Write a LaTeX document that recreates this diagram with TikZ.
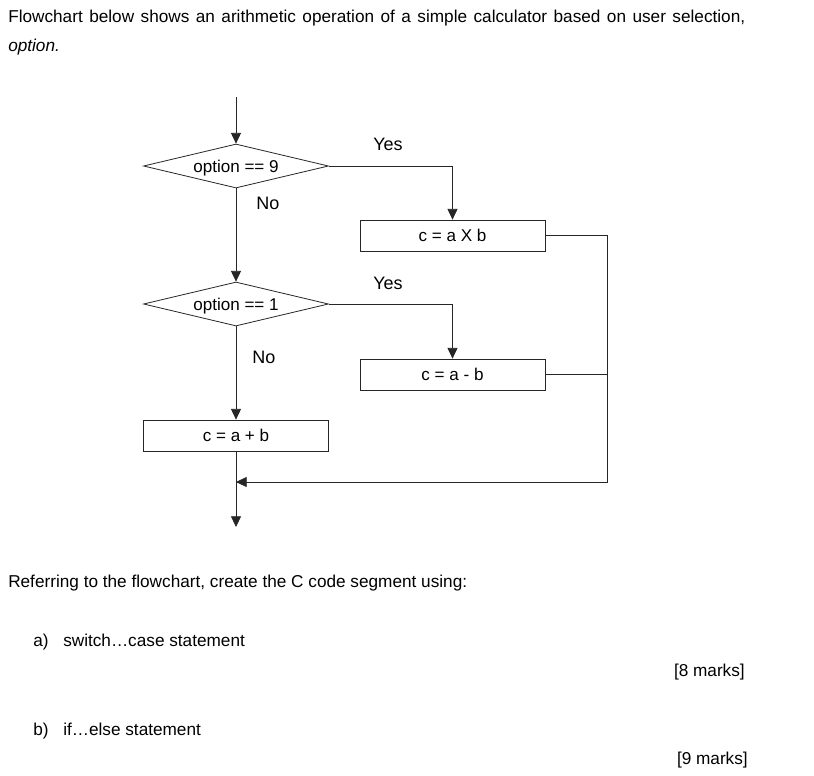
\documentclass[tikz,border=0pt]{standalone}
\usepackage{fontspec}
\setmainfont{Liberation Sans}
\usetikzlibrary{shapes.geometric,arrows.meta}

\begin{document}
\begin{tikzpicture}[x=0.75pt,y=0.75pt,yscale=-1,xscale=1,
    line/.style={draw=black!85,line width=0.6pt},
    arrowline/.style={line,-{Triangle[length=8pt,width=7.5pt]}},
    decision/.style={diamond,draw=black!85,line width=0.6pt,aspect=4.2,inner sep=0pt,text depth=0pt,minimum width=138.75pt,minimum height=33pt,font=\fontsize{12.8}{14}\selectfont},
    process/.style={rectangle,draw=black!85,line width=0.6pt,inner sep=0pt,minimum width=138.75pt,minimum height=23.25pt,font=\fontsize{12.8}{14}\selectfont},
    label/.style={inner sep=0pt,font=\fontsize{13.5}{15}\selectfont},
    body/.style={inner sep=0pt,anchor=base west,font=\fontsize{12.9}{15}\selectfont}]
    \useasboundingbox (0,0) rectangle (814,775);

    % Text Node
    \node (intro) [body] at (8,22) {\hbox to 552.75pt{Flowchart below shows an arithmetic operation of a simple calculator based on user selection,}};
    % Text Node
    \node (optword) [body] at (8,51) {\itshape option.};

    %Flowchart
    \coordinate (start) at (236,97);
    \node (dec9) [decision] at (236,166) {option == 9};
    \node (mul) [process] at (452.5,235.5) {c = a X b};
    \node (dec1) [decision] at (236,304) {option == 1};
    \node (sub) [process] at (452.5,374.5) {c = a - b};
    \node (add) [process] at (236,435.5) {c = a + b};
    \coordinate (join) at (236,482);
    \coordinate (stop) at (236,527);
    \coordinate (rail) at (607,235.5);

    \draw [arrowline] (start) -- (dec9.north);
    \draw [arrowline] (dec9.east) -| (mul.north);
    \draw [arrowline] (dec9.south) -- (dec1.north);
    \draw [arrowline] (dec1.east) -| (sub.north);
    \draw [arrowline] (dec1.south) -- (add.north);
    \draw [line] (mul.east) -- (rail) |- (join);
    \draw [arrowline] (rail |- join) -- (join);
    \draw [line] (sub.east) -- (rail |- sub.east);
    \draw [arrowline] (add.south) -- (stop);

    % Text Node
    \node (yes9) [label] at (388,144) {Yes};
    \node (no9) [label] at (268,203) {No};
    \node (yes1) [label] at (388,283) {Yes};
    \node (no1) [label] at (264,357) {No};

    % Text Node
    \node (refer) [body] at (8,587) {Referring to the flowchart, create the C code segment using:};
    \node (parta) [body] at (33,646) {a)};
    \node (switchq) [body] at (63,646) {switch\ldots case statement};
    \node (marka) [body,anchor=base east] at (745,676) {[8 marks]};
    \node (partb) [body] at (33,735) {b)};
    \node (ifq) [body] at (63,735) {if\ldots else statement};
    \node (markb) [body,anchor=base east] at (748,764) {[9 marks]};
\end{tikzpicture}
\end{document}
